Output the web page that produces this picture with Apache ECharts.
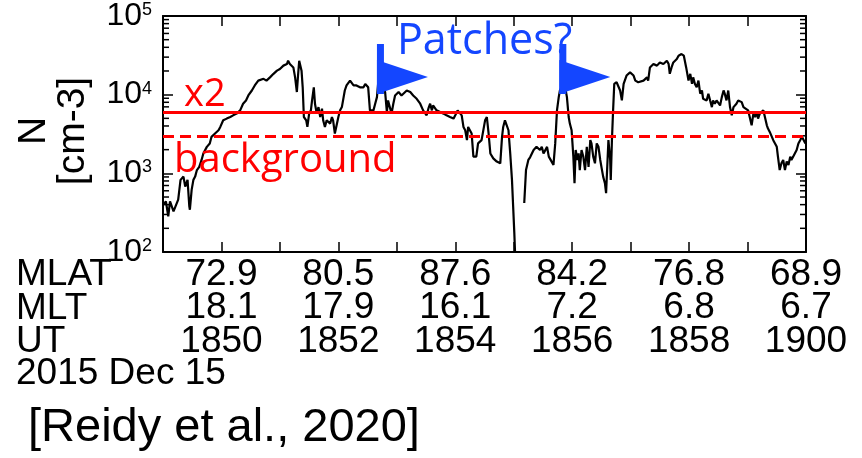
<!DOCTYPE html>
<html>
<head>
<meta charset="utf-8">
<script src="https://cdn.jsdelivr.net/npm/echarts@6/dist/echarts.min.js"></script>
<style>
  html, body { margin: 0; padding: 0; background: #fff; }
  #chart { width: 862px; height: 458px; }
</style>
</head>
<body>
<div id="chart"></div>
<script>
// Electron density along the pass, UT minutes after 18:00 on 2015 Dec 15
const utMinutes = [
  49.00, 49.05, 49.09, 49.12, 49.18, 49.21, 49.26, 49.30, 49.35, 49.38,
  49.42, 49.45, 49.46, 49.49, 49.52, 49.55, 49.58, 49.62, 49.66, 49.69,
  49.75, 49.80, 49.83, 49.89, 49.95, 49.98, 50.03, 50.09, 50.15, 50.20,
  50.26, 50.32, 50.37, 50.42, 50.46, 50.52, 50.57, 50.63, 50.66, 50.72,
  50.77, 50.83, 50.89, 50.95, 51.00, 51.06, 51.12, 51.14, 51.17, 51.20,
  51.23, 51.26, 51.29, 51.31, 51.33, 51.36, 51.37, 51.39, 51.41, 51.45,
  51.47, 51.50, 51.53, 51.55, 51.58, 51.60, 51.63, 51.66, 51.69, 51.72,
  51.74, 51.77, 51.80, 51.83, 51.86, 51.89, 51.91, 51.94, 51.97, 52.00,
  52.03, 52.06, 52.09, 52.11, 52.14, 52.20, 52.23, 52.26, 52.31, 52.37,
  52.40, 52.43, 52.46, 52.49, 52.51, 52.54, 52.57, 52.60, 52.63, 52.66,
  52.68, 52.73, 52.78, 52.80, 52.83, 52.85, 52.91, 52.94, 52.97, 53.00,
  53.03, 53.08, 53.11, 53.17, 53.23, 53.28, 53.34, 53.40, 53.45, 53.51,
  53.54, 53.57, 53.60, 53.62, 53.68, 53.74, 53.80, 53.85, 53.91, 53.97,
  54.00, 54.04, 54.07, 54.11, 54.14, 54.17, 54.20, 54.22, 54.25, 54.28,
  54.31, 54.36, 54.39, 54.45, 54.51, 54.54, 54.57, 54.60, 54.65, 54.71,
  54.77, 54.80, 54.82, 54.85, 54.88, 54.91, 54.94, 54.97, 54.99, 55.01,
  55.03, 55.10,
  55.18, 55.21, 55.25, 55.28, 55.34, 55.39, 55.42, 55.45, 55.48, 55.51,
  55.57, 55.60, 55.63, 55.68, 55.71, 55.74, 55.77, 55.79, 55.85, 55.88,
  55.91, 55.94, 55.96, 55.99, 56.02, 56.04, 56.06, 56.09, 56.11, 56.13,
  56.16, 56.19, 56.22, 56.25, 56.28, 56.31, 56.33, 56.36, 56.39, 56.42,
  56.45, 56.48, 56.51, 56.53, 56.56, 56.58, 56.60, 56.62, 56.65, 56.66,
  56.68, 56.70, 56.72, 56.76, 56.82, 56.85, 56.88, 56.93, 56.99, 57.05,
  57.08, 57.11, 57.13, 57.16, 57.22, 57.25, 57.28, 57.30, 57.33, 57.36,
  57.39, 57.45, 57.50, 57.56, 57.59, 57.62, 57.65, 57.67, 57.70, 57.73,
  57.79, 57.82, 57.87, 57.91, 57.95, 57.99, 58.02, 58.05, 58.07, 58.10,
  58.13, 58.16, 58.19, 58.22, 58.24, 58.27, 58.30, 58.33, 58.36, 58.39,
  58.41, 58.44, 58.47, 58.53, 58.56, 58.59, 58.61, 58.64, 58.67, 58.70,
  58.73, 58.76, 58.78, 58.81, 58.84, 58.87, 58.90, 58.93, 58.96, 59.01,
  59.04, 59.07, 59.10, 59.13, 59.16, 59.18, 59.21, 59.24, 59.27, 59.30,
  59.33, 59.35, 59.38, 59.44, 59.47, 59.50, 59.52, 59.55, 59.58, 59.61,
  59.64, 59.67, 59.70, 59.73, 59.75, 59.78, 59.81, 59.84, 59.87, 59.90,
  59.93, 59.96, 59.99
];
const density = [
  399, 439, 284, 439, 328, 314, 462, 826, 909, 679,
  826, 380, 345, 617, 826, 909, 1100, 1210, 1480, 1790,
  2170, 2400, 2910, 3210, 3530, 3890, 4720, 4960, 5200, 5460,
  5740, 6320, 7670, 8450, 9770, 11300, 13100, 15100, 15900, 15900,
  15100, 16600, 18400, 20200, 21200, 23400, 24500, 27000, 24500, 23400,
  22200, 16600, 10800, 17500, 27000, 28400, 20200, 12400, 5200, 4720,
  3890, 5740, 6320, 8450, 12400, 7670, 5740, 6950, 5200, 6640,
  4720, 3890, 4720, 4960, 4290, 5200, 4720, 3210, 3210, 5200,
  6320, 6950, 9300, 11300, 13100, 15100, 14400, 13100, 13100, 12400,
  13100, 12400, 13700, 14400, 12400, 6320, 6010, 6320, 7670, 9300,
  13700, 15100, 11900, 10800, 6010, 8450, 5740, 7670, 9770, 9300,
  10800, 9770, 10300, 11300, 10800, 9770, 8870, 7670, 6320, 5460,
  6640, 7670, 6320, 7300, 6320, 6010, 5740, 5460, 5200, 4960,
  5460, 6320, 6640, 5460, 3890, 3530, 2640, 3890, 3710, 3210,
  1630, 1630, 2400, 2640, 4720, 5200, 3210, 1790, 1550, 1410,
  1340, 2910, 3890, 4720, 4960, 3530, 1790, 826, 380, 175,
  70, null,
  419, 1100, 1480, 1600, 1980, 2170, 2280, 1980, 2170, 1790,
  2170, 1630, 1560, 1280, 2400, 6320, 9300, 11300, 13700, 12400,
  9300, 5200, 4290, 3530, 1630, 750, 1980, 1480, 1790, 1100,
  1980, 1630, 1100, 2170, 1210, 2640, 2400, 1630, 1340, 2400,
  2170, 1480, 1100, 909, 750, 561, 1210, 2640, 1480, 826,
  2640, 6320, 13700, 14400, 11300, 8450, 13700, 17500, 19200, 17500,
  15100, 15900, 14400, 13700, 15100, 15900, 16600, 15100, 22200, 23400,
  24500, 23400, 25700, 24500, 25700, 27000, 24500, 18400, 22200, 25700,
  28400, 31300, 32800, 31300, 22200, 15100, 18400, 13700, 16600, 13700,
  12400, 15100, 10300, 11300, 8870, 9300, 8450, 10300, 8450, 6950,
  8450, 7670, 8450, 7300, 9300, 11300, 10300, 8450, 11300, 6950,
  5460, 6950, 7300, 7670, 8450, 8600, 8040, 6950, 6950, 6320,
  6320, 4080, 5740, 5200, 6010, 4960, 5740, 5460, 6320, 6320,
  4080, 3710, 3360, 2640, 2400, 2170, 1630, 1100, 1340, 1480,
  1100, 1410, 1280, 1630, 1480, 1630, 1710, 1980, 2400, 2640,
  2910, 2770, 2400
];

// Reference levels
const backgroundLevel = 3000;
const doubledLevel = 6000;

// Flag markers at the suspected patches (base of each flag pole)
const flagMinutes = [52.66, 55.78];
const flagDensity = [10200, 10200];

// Multi-row x tick labels
const tickMinutes = [50, 52, 54, 56, 58, 60];
const mlatLabels = ['72.9', '80.5', '87.6', '84.2', '76.8', '68.9'];
const mltLabels = ['18.1', '17.9', '16.1', '7.2', '6.8', '6.7'];
const utLabels = ['1850', '1852', '1854', '1856', '1858', '1900'];

// Log-axis minor tick positions
const minorTickValues = [];
[100, 1000, 10000].forEach(function (d) {
  for (let m = 2; m <= 9; m++) minorTickValues.push(m * d);
});

const xMin = 49, xMax = 60;
const FONT = '"Liberation Sans", Arial, Helvetica, sans-serif';
const BLUE = '#1446ff';
const RED = '#ff0000';

const lineData = utMinutes.map(function (t, i) { return [t, density[i]]; });

const chart = echarts.init(document.getElementById('chart'), null, { renderer: 'canvas' });

const axisLineStyle = { color: '#000', width: 2 };

chart.setOption({
  animation: false,
  backgroundColor: '#fff',
  grid: { left: 163, right: 56, top: 15, bottom: 206, containLabel: false },
  xAxis: [
    {
      type: 'value', position: 'bottom', min: xMin, max: xMax, interval: 1,
      axisLine: { show: true, lineStyle: axisLineStyle },
      axisTick: { show: true, inside: true, length: 10, lineStyle: { color: '#000', width: 1.5 } },
      splitLine: { show: false },
      axisLabel: {
        show: true, margin: 6, color: '#000', fontFamily: FONT, fontSize: 37, lineHeight: 33.5,
        showMinLabel: true, showMaxLabel: true, hideOverlap: false,
        formatter: function (v) {
          const i = tickMinutes.indexOf(Math.round(v));
          if (i < 0 || Math.abs(v - tickMinutes[i]) > 1e-6) return '';
          return mlatLabels[i] + '\n' + mltLabels[i] + '\n' + utLabels[i];
        }
      }
    },
    {
      type: 'value', position: 'top', min: xMin, max: xMax, interval: 1,
      axisLine: { show: true, lineStyle: axisLineStyle },
      axisTick: { show: true, inside: true, length: 10, lineStyle: { color: '#000', width: 1.5 } },
      splitLine: { show: false },
      axisLabel: { show: false }
    }
  ],
  yAxis: [
    {
      type: 'log', logBase: 10, min: 100, max: 100000, position: 'left',
      axisLine: { show: true, lineStyle: axisLineStyle },
      axisTick: { show: true, inside: true, length: 10, lineStyle: { color: '#000', width: 1.5 } },
      minorTick: { show: false },
      splitLine: { show: false },
      axisLabel: {
        show: true, margin: 11, color: '#000',
        formatter: function (v) {
          return '{a|10}{b|' + Math.round(Math.log10(v)) + '}';
        },
        rich: {
          a: { fontFamily: FONT, fontSize: 32, color: '#000', lineHeight: 30 },
          b: { fontFamily: FONT, fontSize: 18, color: '#000', verticalAlign: 'top', lineHeight: 18 }
        }
      }
    },
    {
      type: 'log', logBase: 10, min: 100, max: 100000, position: 'right',
      axisLine: { show: true, lineStyle: axisLineStyle },
      axisTick: { show: true, inside: true, length: 10, lineStyle: { color: '#000', width: 1.5 } },
      splitLine: { show: false },
      axisLabel: { show: false }
    }
  ],
  series: [
    {
      name: 'N',
      type: 'line',
      xAxisIndex: 0, yAxisIndex: 0,
      data: lineData,
      showSymbol: false,
      connectNulls: false,
      clip: true,
      lineStyle: { color: '#000', width: 2.2 },
      z: 3,
      markLine: {
        silent: true,
        symbol: 'none',
        label: { show: false },
        data: [
          { yAxis: doubledLevel, lineStyle: { color: RED, width: 3, type: 'solid' } },
          { yAxis: backgroundLevel, lineStyle: { color: RED, width: 3, type: [11, 6] } }
        ]
      }
    },
    {
      name: 'minor ticks',
      type: 'custom',
      xAxisIndex: 0, yAxisIndex: 0,
      silent: true,
      clip: false,
      data: minorTickValues.map(function (v) { return [xMin, v]; }),
      encode: { x: 0, y: 1 },
      renderItem: function (params, api) {
        const left = api.coord([xMin, api.value(1)]);
        const right = api.coord([xMax, api.value(1)]);
        return {
          type: 'group',
          children: [
            { type: 'line', shape: { x1: left[0], y1: left[1], x2: left[0] + 6, y2: left[1] }, style: { stroke: '#000', lineWidth: 1.5 } },
            { type: 'line', shape: { x1: right[0] - 6, y1: right[1], x2: right[0], y2: right[1] }, style: { stroke: '#000', lineWidth: 1.5 } }
          ]
        };
      },
      z: 4
    },
    {
      name: 'flags',
      type: 'custom',
      xAxisIndex: 0, yAxisIndex: 0,
      silent: true,
      clip: false,
      data: flagMinutes.map(function (t, i) { return [t, flagDensity[i]]; }),
      encode: { x: 0, y: 1 },
      renderItem: function (params, api) {
        const p = api.coord([api.value(0), api.value(1)]);
        const x = p[0], y = p[1];
        return {
          type: 'group',
          children: [
            { type: 'rect', shape: { x: x, y: y - 50, width: 7, height: 50 }, style: { fill: BLUE } },
            { type: 'polygon', shape: { points: [[x, y - 34], [x + 51, y - 17], [x, y]] }, style: { fill: BLUE } }
          ]
        };
      },
      z: 6
    }
  ],
  graphic: [
    { type: 'text', x: 54, y: 131, rotation: Math.PI / 2, z: 10,
      style: { text: 'N\n[cm-3]', font: '39px ' + FONT, fill: '#000', align: 'center', verticalAlign: 'middle', lineHeight: 39 } },
    { type: 'text', x: 397, y: 41.5, z: 5,
      style: { text: 'Patches?', font: '43px "Open Sans", sans-serif', fill: BLUE, align: 'left', verticalAlign: 'middle' } },
    { type: 'text', x: 184, y: 95, z: 10,
      style: { text: 'x2', font: '38px "Open Sans", sans-serif', fill: RED, align: 'left', verticalAlign: 'middle' } },
    { type: 'text', x: 174, y: 161, z: 10,
      style: { text: 'background', font: '40px "Open Sans", sans-serif', fill: RED, align: 'left', verticalAlign: 'middle' } },
    { type: 'text', x: 16, y: 274.5, z: 10,
      style: { text: 'MLAT', font: '37px ' + FONT, fill: '#000', align: 'left', verticalAlign: 'middle' } },
    { type: 'text', x: 16, y: 308.5, z: 10,
      style: { text: 'MLT', font: '37px ' + FONT, fill: '#000', align: 'left', verticalAlign: 'middle' } },
    { type: 'text', x: 16, y: 341.5, z: 10,
      style: { text: 'UT', font: '37px ' + FONT, fill: '#000', align: 'left', verticalAlign: 'middle' } },
    { type: 'text', x: 16, y: 374, z: 10,
      style: { text: '2015 Dec 15', font: '37px ' + FONT, fill: '#000', align: 'left', verticalAlign: 'middle' } },
    { type: 'text', x: 28, y: 428.5, z: 10,
      style: { text: '[Reidy et al., 2020]', font: '47px ' + FONT, fill: '#000', align: 'left', verticalAlign: 'middle' } }
  ]
});
</script>
</body>
</html>
